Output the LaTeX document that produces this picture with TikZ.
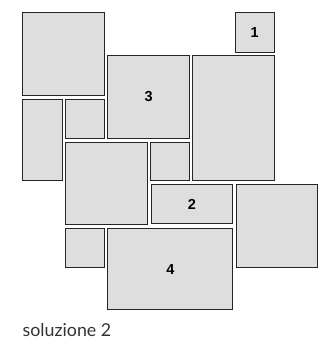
\documentclass[tikz,border=0pt]{standalone}
\usepackage{fontspec}
\setmainfont{Lato}
\newfontfamily\numfont{Liberation Sans}
\begin{document}
\begin{tikzpicture}[x=1pt,y=-1pt,
  tile/.style={draw=black!85,fill=black!13,line width=1.1pt,anchor=north west,inner sep=0pt,
    font=\numfont\bfseries\fontsize{14.5}{16}\selectfont}]
\useasboundingbox (0,0) rectangle (331,346);
\newcommand{\tl}[6]{\node[tile,minimum width=#4-#2,minimum height=#5-#3] (#1) at (#2,#3) {#6};}
\tl{tA}{22.3}{12.3}{104}{95.3}{}
\tl{tOne}{234.7}{12.3}{273.7}{51.7}{1}
\tl{tThree}{107.3}{55}{189}{137.7}{3}
\tl{tRtall}{192.3}{55}{273.7}{180.3}{}
\tl{tLtall}{22.3}{98.7}{62}{180.3}{}
\tl{tS1}{65.3}{98.7}{104}{137.7}{}
\tl{tM}{65.3}{141.7}{146.7}{224.3}{}
\tl{tS2}{150}{141.7}{189}{180.3}{}
\tl{tTwo}{150.7}{184.3}{232}{223.3}{2}
\tl{tR}{236.3}{184.3}{317.3}{267}{}
\tl{tS3}{65.3}{228.3}{104}{267}{}
\tl{tFour}{107.3}{228.3}{232.3}{309.3}{4}
\node[anchor=base west,inner sep=0pt,font=\fontsize{17.8}{20}\selectfont,text=black!80] (cap) at (22.5,336.5) {soluzione 2};
\end{tikzpicture}
\end{document}
